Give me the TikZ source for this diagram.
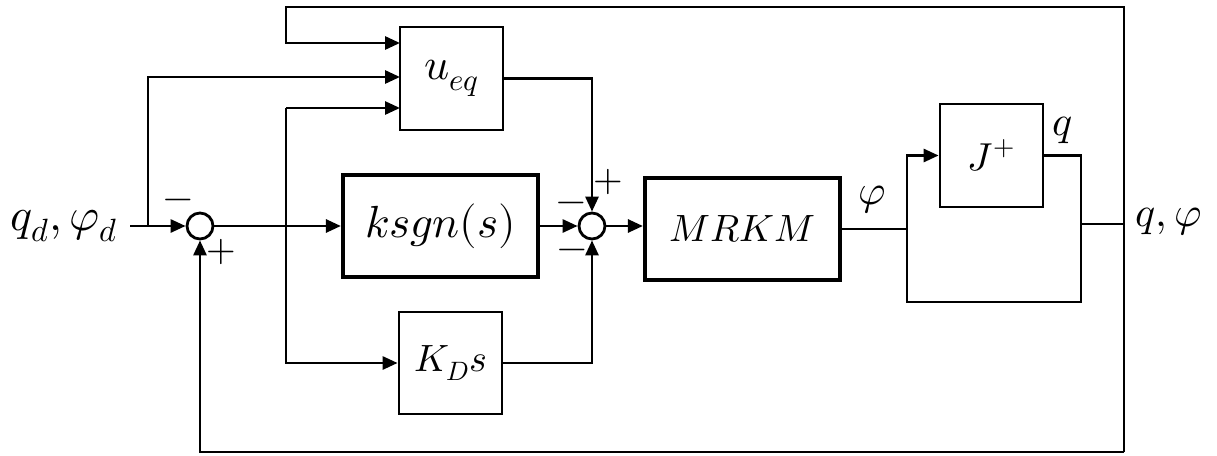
\documentclass[tikz,border=0pt]{standalone}
\usepackage{fontspec}
\usepackage{unicode-math}
\setmathfont{Latin Modern Math}
\usetikzlibrary{arrows.meta,calc}
\begin{document}
\begin{tikzpicture}[x=1pt,y=-1pt,
  line width=2.8pt,
  arr/.style={-{Triangle[length=15pt,width=13pt]}},
  blk/.style={draw,line width=2.8pt,minimum width=103pt,minimum height=103pt,inner sep=0pt},
  bigblk/.style={draw,line width=4.2pt,minimum width=195pt,minimum height=102pt,inner sep=0pt},
  sumc/.style={draw,circle,line width=2.8pt,minimum size=26pt,inner sep=0pt},
  lbl/.style={inner sep=0pt,font=\fontsize{42}{50}\selectfont},
  sgn/.style={inner sep=0pt,font=\fontsize{38}{44}\selectfont}]
\useasboundingbox (0,0) rectangle (1217,455);
% blocks
\node[blk,font=\fontsize{44}{52}\selectfont] (ueq) at (451.5,78.5) {$u_{eq}$};
\node[bigblk,font=\fontsize{45}{54}\selectfont] (ksgn) at (440.5,226) {$ksgn(s)$};
\node[blk,minimum height=102pt,font=\fontsize{38}{46}\selectfont] (KD) at (450.5,363) {$K_{D}s$};
\node[bigblk,font=\fontsize{38}{46}\selectfont] (MRKM) at (742.5,229) {$MRKM$};
\node[blk,font=\fontsize{39}{46}\selectfont] (J) at (991.5,155.5) {$J^{+}$};
\node[sumc] (s1) at (200,226) {};
\node[sumc] (s2) at (592,226) {};
% labels
\node[lbl,anchor=east,font=\fontsize{46}{54}\selectfont] (qin) at (119,226) {$q_d,\varphi_d$};
\node[lbl] (phi) at (872,200) {$\varphi$};
\node[lbl] (qlab) at (1063,130) {$q$};
\node[lbl,anchor=west] (qout) at (1134,222) {$q,\varphi$};
% signs
\node[sgn] (m1) at (178,204) {$-$};
\node[sgn] (p1) at (221,252) {$+$};
\node[sgn] (p2) at (608,182) {$+$};
\node[sgn] (m2) at (571,207) {$-$};
\node[sgn] (m3) at (572,254) {$-$};
% coordinates
\coordinate (inL) at (130,226);
\coordinate (b1) at (148,226);
\coordinate (b2) at (286,226);
\coordinate (u1) at (400,43);
\coordinate (u2) at (400,77);
\coordinate (u3) at (400,108);
\coordinate (tl) at (286,7);
\coordinate (fr) at (1124,224);
\coordinate (frt) at (1124,7);
\coordinate (frb) at (1124,452);
\coordinate (fbl) at (200,452);
\coordinate (split) at (907,229);
\coordinate (jr) at (1081,302);
\coordinate (jo) at (1081,224);
% connectors
\draw[arr] (inL) -- (s1.west);
\draw[arr] (b1) |- (u2);
\draw[arr] (s1.east) -- (ksgn.west);
\draw[arr] (u3 -| b2) -- (u3);
\draw[arr] (u3 -| b2) |- (KD.west);
\draw[arr] (frb) -- (frt) -- (tl) |- (u1);
\draw[arr] (frb) -- (fbl) -- (s1.south);
\draw[arr] (ueq.east) -| (s2.north);
\draw[arr] (KD.east) -| (s2.south);
\draw[arr] (ksgn.east) -- (s2.west);
\draw[arr] (s2.east) -- (s2.east -| MRKM.west);
\draw (MRKM.east) -- (split);
\draw[arr] (split) |- (J.west);
\draw (J.east) -| (jr) -| (split);
\draw (jo) -- (fr);
\end{tikzpicture}
\end{document}
